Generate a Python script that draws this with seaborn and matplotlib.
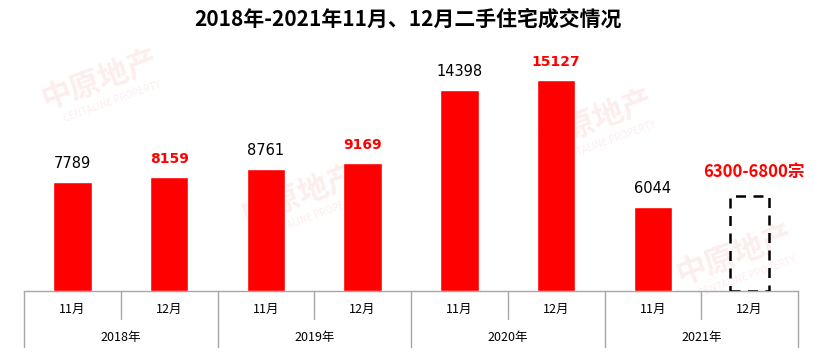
import matplotlib
matplotlib.use("Agg")
import matplotlib.pyplot as plt
import matplotlib.transforms as mtransforms
import seaborn as sns
import pandas as pd

# ---- data ----
years = ["2018年", "2019年", "2020年", "2021年"]
months = ["11月", "12月"]
categories = ["2018-11", "2018-12", "2019-11", "2019-12",
              "2020-11", "2020-12", "2021-11", "2021-12"]
values = [7789, 8159, 8761, 9169, 14398, 15127, 6044]   # 2021-12 not yet known
estimate_low = 6300
estimate_high = 6800
estimate_label = "6300-6800宗"
title = "2018年-2021年11月、12月二手住宅成交情况"

sns.set_theme(style="white")
plt.rcParams["font.family"] = ["Noto Sans CJK SC", "DejaVu Sans"]

df = pd.DataFrame({"cat": categories[:len(values)], "value": values})

fig = plt.figure(figsize=(8.15, 3.6), dpi=100)
ax = fig.add_axes([24 / 815, 69 / 360, 774 / 815, 251 / 360])

# faint watermarks (behind the axes content)
wm_pos = [(100, 80), (300, 195), (595, 120), (735, 255)]
for (px, py) in wm_pos:
    fig.text(px / 815, 1 - py / 360, "中原地产", fontsize=22, fontweight="bold",
             color="#fdeeee", rotation=20, ha="center", va="center", zorder=-5)
    fig.text((px + 12) / 815, 1 - (py + 22) / 360, "CENTALINE PROPERTY", fontsize=7,
             color="#fdeeee", rotation=20, ha="center", va="center", zorder=-5)

sns.barplot(data=df, x="cat", y="value", order=categories, color="#ff0000",
            saturation=1, width=0.4, ax=ax, zorder=3)

# dashed estimate box for 2021-12
ax.bar([7], [estimate_high], width=0.4, fill=False, edgecolor="black",
       linestyle=(0, (4, 3)), linewidth=1.8, zorder=3)

ax.set_ylim(0, 18000)
ax.set_xlim(-0.5, 7.5)
ax.set_xlabel("")
ax.set_ylabel("")
ax.set_xticks([])
ax.set_yticks([])
for s in ["top", "left", "right"]:
    ax.spines[s].set_visible(False)
ax.spines["bottom"].set_color("#a6a6a6")
ax.spines["bottom"].set_linewidth(1)
ax.patch.set_alpha(0)
ax.set_zorder(2)

# value labels
for i, v in enumerate(values):
    if i % 2 == 0:
        ax.annotate(str(v), (i, v), xytext=(0, 8), textcoords="offset points",
                    ha="center", va="bottom", fontsize=10.5, color="black",
                    family=["DejaVu Sans"])
    else:
        ax.annotate(str(v), (i, v), xytext=(0, 8), textcoords="offset points",
                    ha="center", va="bottom", fontsize=10, color="#ff0000",
                    fontweight="bold", family=["DejaVu Sans"])
ax.annotate(estimate_label, (7, estimate_high), xytext=(3, 11), textcoords="offset points",
            ha="center", va="bottom", fontsize=12, color="#ff0000", fontweight="bold",
            family=["Noto Sans CJK SC", "DejaVu Sans"])

# two-level category axis
trans = mtransforms.blended_transform_factory(ax.transData, ax.transAxes)
line_kw = dict(color="#a6a6a6", linewidth=1, transform=trans, clip_on=False)
for k in range(9):
    xpos = k - 0.5
    if k % 2 == 0:
        ax.plot([xpos, xpos], [0, -0.222], **line_kw)
    else:
        ax.plot([xpos, xpos], [0, -0.112], **line_kw)
for i, c in enumerate(categories):
    ax.text(i, -0.072, months[i % 2], transform=trans, ha="center", va="center",
            fontsize=9, color="black")
for j, y in enumerate(years):
    ax.text(2 * j + 0.5, -0.187, y, transform=trans, ha="center", va="center",
            fontsize=9, color="black")

fig.text(408 / 815, 1 - 19 / 360, title, ha="center", va="center",
         fontsize=15, fontweight="bold", color="black")

fig.savefig("out.png", dpi=100)
